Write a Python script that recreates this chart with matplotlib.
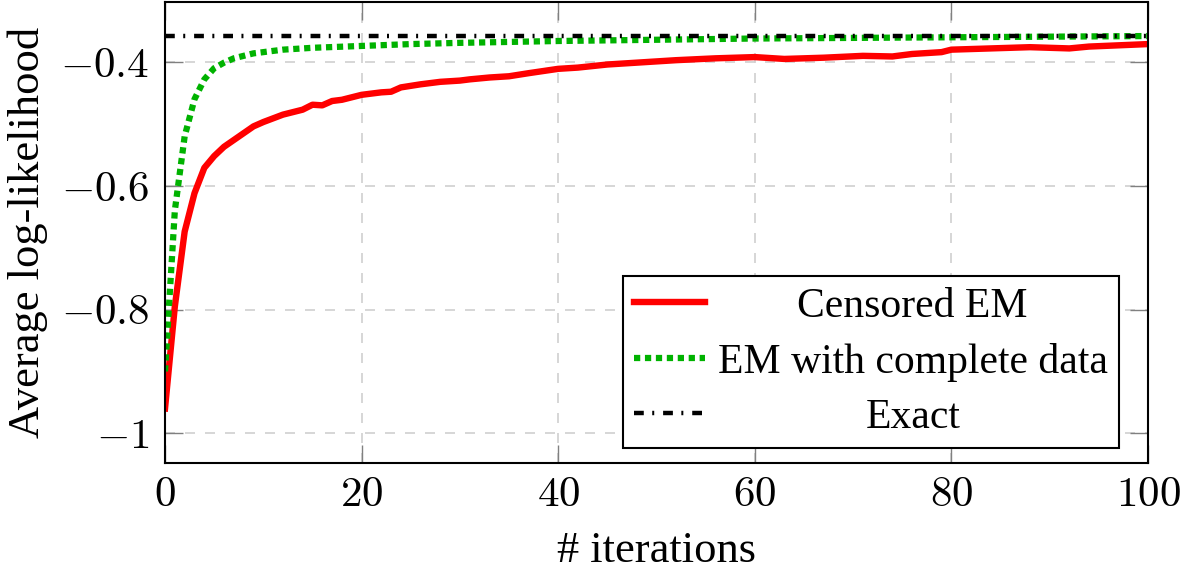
import matplotlib
matplotlib.use('Agg')
import matplotlib.pyplot as plt
from matplotlib.ticker import FuncFormatter

censored_x = [0, 1, 2, 3, 4, 5, 6, 7, 8, 9, 10, 11, 12, 13, 14, 15, 16, 17, 18, 19, 20,
              22, 23, 24, 26, 28, 30, 31, 33, 35, 37, 40, 42, 45, 49, 52, 56, 60, 63,
              67, 71, 74, 76, 79, 80, 84, 88, 92, 94, 100]
censored_y = [-0.96, -0.795, -0.674, -0.612, -0.571, -0.552, -0.537, -0.526, -0.515,
              -0.504, -0.497, -0.491, -0.485, -0.481, -0.477, -0.469, -0.470, -0.463,
              -0.461, -0.457, -0.453, -0.449, -0.448, -0.441, -0.436, -0.432, -0.430,
              -0.428, -0.425, -0.423, -0.418, -0.411, -0.409, -0.404, -0.400, -0.397,
              -0.394, -0.392, -0.395, -0.393, -0.390, -0.391, -0.387, -0.384, -0.380,
              -0.378, -0.376, -0.378, -0.375, -0.371]

complete_x = [0, 1, 2, 3, 4, 5, 6, 7, 8, 9, 10, 12, 15, 20, 25, 30, 40, 50, 60, 70, 80, 90, 100]
complete_y = [-0.90, -0.64, -0.52, -0.46, -0.428, -0.41, -0.401, -0.394, -0.390, -0.386,
              -0.384, -0.380, -0.377, -0.374, -0.371, -0.369, -0.366, -0.364, -0.362,
              -0.361, -0.360, -0.359, -0.358]

exact_x = [0, 100]
exact_y = [-0.358, -0.358]

plt.rcParams['font.family'] = ['Liberation Serif', 'DejaVu Serif']
plt.rcParams['mathtext.fontset'] = 'cm'

fig = plt.figure(figsize=(11.82, 5.75), dpi=100)
ax = fig.add_axes([0.1396, 0.1948, 0.8316, 0.8017])

ax.plot(censored_x, censored_y, color='#ff0000', lw=4.6, label='Censored EM',
        solid_joinstyle='round')
ax.plot(complete_x, complete_y, color='#00b200', lw=4.5, dashes=(1, 0.75),
        dash_capstyle='butt', label='EM with complete data')
ax.plot(exact_x, exact_y, color='black', lw=3.2, dashes=(2.2, 1.9, 0.45, 2.0),
        label='Exact')

ax.set_xlim(0, 100)
ax.set_ylim(-1.048, -0.303)
ax.set_xticks([0, 20, 40, 60, 80, 100])
ax.set_yticks([-1, -0.8, -0.6, -0.4])
ax.xaxis.set_major_formatter(FuncFormatter(lambda v, p: '$%g$' % v))
ax.yaxis.set_major_formatter(FuncFormatter(lambda v, p: '$%g$' % v))

ax.grid(True, color='#d0d0d0', linestyle=(0, (6, 6)), linewidth=1.2)
ax.tick_params(direction='in', length=13, width=1, color='#808080',
               top=True, right=True, labelsize=31)
ax.tick_params(axis='x', pad=10)
ax.tick_params(axis='y', pad=11)
for s in ax.spines.values():
    s.set_linewidth(1.5)

ax.set_xlabel('# iterations', fontsize=32, labelpad=11)
ax.set_ylabel('Average log-likelihood', fontsize=32, labelpad=9)

leg = ax.legend(loc='lower right', bbox_to_anchor=(0.9705, 0.0325), fontsize=30,
                fancybox=False, framealpha=1, edgecolor='black', handlelength=1.7,
                handletextpad=0.3, borderpad=0.27, labelspacing=0.4,
                borderaxespad=0)
leg.get_frame().set_linewidth(1.5)

# centre the legend texts like pgfplots does
fig.canvas.draw()
texts = leg.get_texts()
widths = [t.get_window_extent().width for t in texts]
for t, w in zip(texts, widths):
    t.set_x(t.get_position()[0] + (max(widths) - w) / 2)

fig.savefig('out.png', dpi=100)
